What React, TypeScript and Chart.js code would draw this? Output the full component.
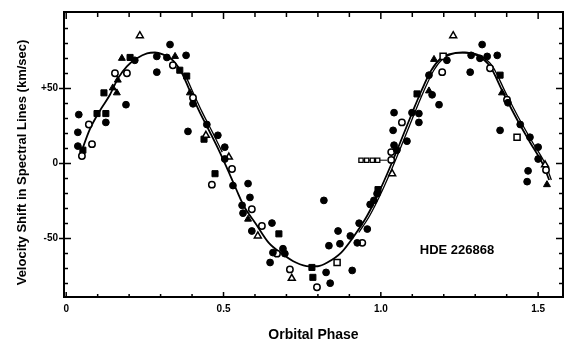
import React, { useEffect, useRef } from "react";
import { Chart, registerables } from "chart.js";

Chart.register(...registerables);

// ---- data (phase, velocity km/s) ----
const filledCircles: [number, number][] = [
  [0.040, 32.6], [0.037, 20.8], [0.037, 11.6], [0.126, 27.4], [0.190, 39.2], [0.218, 68.8],
  [0.288, 71.4], [0.288, 60.9], [0.330, 79.3], [0.320, 70.7], [0.381, 72.1], [0.403, 39.8],
  [0.387, 21.4], [0.447, 26.0], [0.482, 18.8], [0.504, 10.9], [0.504, 3.0], [0.530, -14.7],
  [0.578, -13.4], [0.584, -22.6], [0.559, -27.9], [0.562, -33.1], [0.590, -45.0], [0.654, -39.7],
  [0.657, -59.4], [0.689, -56.8], [0.695, -60.1], [0.648, -66.0], [0.826, -72.6], [0.839, -79.8],
  [0.819, -24.6], [0.835, -54.8], [0.870, -53.5], [0.864, -45.0], [0.909, -71.3], [0.903, -48.3],
  [0.925, -52.9], [0.931, -39.8], [0.957, -43.7], [0.966, -27.3], [0.978, -24.6], [0.988, -20.1],
  [1.051, 8.9], [1.042, 12.2], [1.039, 22.1], [1.083, 14.9], [1.042, 33.9], [1.099, 33.9],
  [1.121, 33.3], [1.121, 27.4], [1.163, 45.8], [1.185, 39.2], [1.153, 58.9], [1.210, 68.8],
  [1.287, 72.1], [1.284, 60.9], [1.322, 79.3], [1.338, 71.4], [1.370, 72.1], [1.315, 70.1],
  [1.404, 40.5], [1.379, 22.1], [1.443, 26.0], [1.474, 17.5], [1.500, 10.9], [1.500, 3.0],
  [1.468, -4.9], [1.465, -12.1],
];
const openCircles: [number, number][] = [
  [0.050, 5.0], [0.072, 26.0], [0.082, 12.9], [0.155, 60.2], [0.193, 60.2], [0.339, 65.5],
  [0.403, 43.8], [0.527, -3.7], [0.463, -14.1], [0.590, -30.5], [0.622, -41.7], [0.670, -60.1],
  [0.711, -70.6], [0.797, -82.5], [0.941, -52.9], [1.033, 2.4], [1.033, 7.6], [1.067, 27.4],
  [1.195, 60.9], [1.347, 63.5], [1.401, 42.5], [1.525, -4.3],
];
const filledTriangles: [number, number][] = [
  [0.148, 50.4], [0.161, 47.1], [0.164, 55.6], [0.177, 70.1], [0.346, 71.4], [0.393, 47.1],
  [0.578, -37.1], [1.153, 48.4], [1.169, 69.4], [1.385, 47.1], [1.528, -14.1],
];
const openTriangles: [number, number][] = [
  [0.234, 85.2], [0.444, 18.8], [0.517, 4.3], [0.609, -48.3], [0.717, -76.5], [1.036, -6.8],
  [1.230, 85.2], [1.522, -0.9],
];
const filledSquares: [number, number][] = [
  [0.053, 8.9], [0.098, 33.3], [0.126, 33.3], [0.120, 47.1], [0.203, 70.7], [0.361, 62.2],
  [0.383, 58.3], [0.438, 16.2], [0.473, -6.8], [0.676, -46.9], [0.781, -69.3], [0.784, -75.9],
  [0.991, -17.4], [1.115, 46.4], [1.379, 58.9],
];
const openSquares: [number, number][] = [
  [0.861, -66.0], [1.198, 71.4], [1.433, 17.5],
];
const groupedPoints: [number, number][] = [
  [0.937, 2.2], [0.955, 2.2], [0.973, 2.2], [0.99, 2.2], [1.02, 2.2],
];

// fitted velocity curve
const curveMain: [number, number][] = [
  [0.046, 6.5], [0.075, 22.7], [0.107, 35.2], [0.139, 45.8], [0.165, 56.9], [0.193, 64.8],
  [0.225, 70.1], [0.257, 73.4], [0.282, 74.0], [0.307, 72.7], [0.339, 68.8], [0.368, 60.2],
  [0.393, 48.4], [0.425, 33.9], [0.457, 20.8], [0.488, 7.6], [0.515, -5.0], [0.540, -17.0],
  [0.565, -28.5], [0.603, -40.3], [0.644, -52.9], [0.686, -60.1], [0.730, -66.0], [0.772, -68.6],
  [0.800, -68.5], [0.830, -66.0], [0.874, -59.4], [0.915, -48.3], [0.956, -35.0], [0.990, -21.0],
  [1.020, -7.0], [1.050, 8.0], [1.075, 21.0], [1.100, 34.0], [1.128, 48.0], [1.160, 62.0],
  [1.190, 70.0], [1.220, 73.0], [1.259, 74.0], [1.306, 72.1], [1.347, 64.8], [1.389, 47.1],
  [1.433, 29.3], [1.474, 14.2], [1.516, -0.9], [1.535, -11.0],
];
const curveSecondA: [number, number][] = [
  [0.376, 60.2], [0.401, 48.4], [0.433, 33.9], [0.465, 20.8], [0.496, 7.6],
];
const curveSecondB: [number, number][] = [
  [0.930, -46.0], [0.964, -35.0], [0.998, -21.0], [1.028, -7.0], [1.058, 8.0], [1.083, 21.0],
  [1.108, 34.0], [1.136, 48.0], [1.168, 62.0], [1.198, 70.0], [1.228, 73.0], [1.267, 74.0],
  [1.314, 72.1], [1.355, 64.8], [1.397, 47.1], [1.441, 29.3], [1.482, 14.2], [1.524, -0.9],
  [1.542, -11.0],
];

// axes
const xTickValues = [0, 0.1, 0.2, 0.3, 0.4, 0.5, 0.6, 0.7, 0.8, 0.9, 1.0, 1.1, 1.2, 1.3, 1.4, 1.5];
const xLabelValues = [0, 0.5, 1.0, 1.5];
const xLabelTexts = ["0", "0.5", "1.0", "1.5"];
const yTickValues = [-80, -70, -60, -50, -40, -30, -20, -10, 0, 10, 20, 30, 40, 50, 60, 70, 80, 90];
const yLabelValues = [-50, 0, 50];
const yLabelTexts = ["-50", "0", "+50"];
const yTitle = "Velocity Shift in Spectral Lines (km/sec)";
const xTitle = "Orbital Phase";
const starName = "HDE 226868";
const starLabelAt = { phase: 1.242, vel: -58 };

const FONT = "'Liberation Sans', Arial, sans-serif";

const xy = (arr: [number, number][]) => arr.map(([x, y]) => ({ x, y }));
const near = (a: number, b: number) => Math.abs(a - b) < 1e-6;

const framePlugin = {
  id: "frame",
  afterDraw(chart: any) {
    const { ctx, chartArea } = chart;
    const { left, right, top, bottom } = chartArea;
    const xs = chart.scales.x;
    const ys = chart.scales.y;
    ctx.save();
    ctx.strokeStyle = "#000";
    ctx.lineWidth = 2;
    ctx.strokeRect(left, top, right - left, bottom - top);
    ctx.lineWidth = 1.5;
    ctx.beginPath();
    for (const t of ys.ticks) {
      const py = ys.getPixelForValue(t.value);
      const major = yLabelValues.some((v) => near(v, t.value));
      const len = major ? 7 : 4;
      ctx.moveTo(left, py);
      ctx.lineTo(left + len, py);
      ctx.moveTo(right, py);
      ctx.lineTo(right - len, py);
      if (major) {
        ctx.moveTo(left - 5, py);
        ctx.lineTo(left, py);
      }
    }
    for (const t of xs.ticks) {
      const px = xs.getPixelForValue(t.value);
      const major = xLabelValues.some((v) => near(v, t.value));
      ctx.moveTo(px, top);
      ctx.lineTo(px, top + (major ? 7 : 5));
      ctx.moveTo(px, bottom);
      ctx.lineTo(px, bottom - (major ? 5 : 3));
    }
    ctx.stroke();
    ctx.fillStyle = "#000";
    // star name
    ctx.font = `bold 13px ${FONT}`;
    ctx.textAlign = "center";
    ctx.textBaseline = "middle";
    ctx.fillText(starName, xs.getPixelForValue(starLabelAt.phase), ys.getPixelForValue(starLabelAt.vel));
    // y title
    ctx.save();
    ctx.translate(22, (top + bottom) / 2 + 8);
    ctx.rotate(-Math.PI / 2);
    ctx.font = `bold 13px ${FONT}`;
    ctx.fillText(yTitle, 0, 0);
    ctx.restore();
    ctx.restore();
  },
};

export default function App() {
  const ref = useRef<HTMLCanvasElement>(null);

  useEffect(() => {
    const canvas = ref.current;
    if (!canvas) return;
    const filled = { backgroundColor: "#000", borderColor: "#000", borderWidth: 1 };
    const open = { backgroundColor: "#fff", borderColor: "#000", borderWidth: 1.5 };
    const curve = {
      type: "line" as const,
      showLine: true,
      borderColor: "#000",
      pointRadius: 0,
      cubicInterpolationMode: "monotone" as const,
      fill: false,
    };
    const chart = new Chart(canvas, {
      type: "scatter",
      data: {
        datasets: [
          { data: xy(filledCircles), pointStyle: "circle", pointRadius: 3.4, ...filled },
          { data: xy(openCircles), pointStyle: "circle", pointRadius: 3.2, ...open },
          { data: xy(filledTriangles), pointStyle: "triangle", pointRadius: 4, ...filled },
          { data: xy(openTriangles), pointStyle: "triangle", pointRadius: 4, ...open },
          { data: xy(filledSquares), pointStyle: "rect", pointRadius: 4.3, ...filled },
          { data: xy(openSquares), pointStyle: "rect", pointRadius: 4.3, ...open },
          {
            data: xy(groupedPoints),
            showLine: true,
            borderColor: "#000",
            borderWidth: 1,
            pointStyle: "rect",
            pointRadius: [3, 3, 3, 3, 0],
            pointBackgroundColor: "#fff",
            pointBorderColor: "#000",
            pointBorderWidth: 1.3,
          } as any,
          { ...curve, data: xy(curveMain), borderWidth: 1.8 } as any,
          { ...curve, data: xy(curveSecondA), borderWidth: 1.3 } as any,
          { ...curve, data: xy(curveSecondB), borderWidth: 1.3 } as any,
        ],
      },
      options: {
        responsive: false,
        animation: false,
        layout: { padding: { left: 0, right: 18, top: 8, bottom: 0 } },
        plugins: { legend: { display: false }, tooltip: { enabled: false } },
        scales: {
          x: {
            type: "linear",
            min: -0.007,
            max: 1.579,
            afterBuildTicks: (s: any) => {
              s.ticks = xTickValues.map((v) => ({ value: v }));
            },
            afterFit: (s: any) => {
              s.height = 52;
            },
            grid: { display: false, drawTicks: false },
            border: { display: false },
            ticks: {
              autoSkip: false,
              maxRotation: 0,
              padding: 6,
              color: "#000",
              font: { family: FONT, size: 10, weight: "bold" },
              callback: (value: any) => {
                const i = xLabelValues.findIndex((v) => near(v, Number(value)));
                return i >= 0 ? xLabelTexts[i] : "";
              },
            },
            title: {
              display: true,
              text: xTitle,
              color: "#000",
              font: { family: FONT, size: 14, weight: "bold" },
              padding: { top: 0, bottom: 5 },
            },
          },
          y: {
            type: "linear",
            min: -89,
            max: 101,
            afterBuildTicks: (s: any) => {
              s.ticks = yTickValues.map((v) => ({ value: v }));
            },
            afterFit: (s: any) => {
              s.width = 64;
            },
            grid: { display: false, drawTicks: false },
            border: { display: false },
            ticks: {
              autoSkip: false,
              padding: 6,
              color: "#000",
              font: { family: FONT, size: 10, weight: "bold" },
              callback: (value: any) => {
                const i = yLabelValues.findIndex((v) => near(v, Number(value)));
                return i >= 0 ? yLabelTexts[i] : "";
              },
            },
            title: { display: false },
          },
        },
      },
      plugins: [framePlugin],
    } as any);
    return () => chart.destroy();
  }, []);

  return (
    <div style={{ position: "absolute", left: 0, top: 0, width: 581, height: 349, background: "#fff" }}>
      <canvas ref={ref} width={581} height={349} style={{ display: "block", width: 581, height: 349 }} />
    </div>
  );
}
